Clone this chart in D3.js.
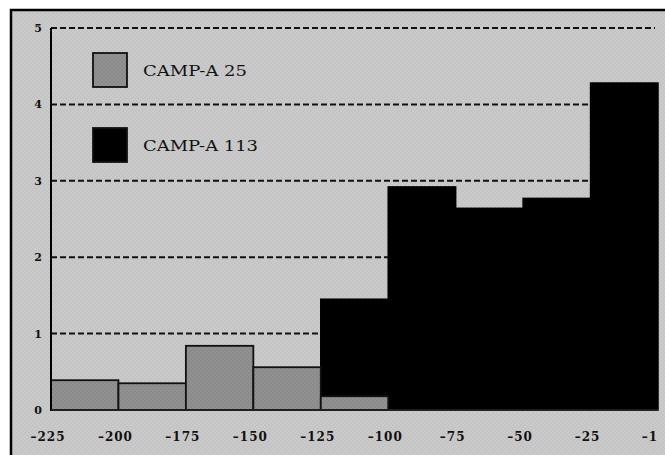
<!DOCTYPE html>
<html><head><meta charset="utf-8">
<script src="https://cdn.jsdelivr.net/npm/d3@7"></script>
<style>body{margin:0;background:#fff}svg{display:block}</style>
</head><body><svg id="c" width="665" height="455"></svg>
<script>
const binEdges = ["-225","-200","-175","-150","-125","-100","-75","-50","-25","-1"];
const camp25 = [0.39, 0.35, 0.84, 0.56, 0.18, 0, 0, 0, 0];
const camp113 = [0, 0, 0, 0, 1.45, 2.92, 2.64, 2.77, 4.28];
const yTicks = [0,1,2,3,4,5];
const seriesNames = ["CAMP-A 25","CAMP-A 113"];
const seriesColors = ["#8e8e8e","#000000"];

const svg = d3.select("#c");
const defs = svg.append("defs");
const pat = defs.append("pattern").attr("id","tex").attr("width",4).attr("height",4).attr("patternUnits","userSpaceOnUse");
pat.append("rect").attr("width",4).attr("height",4).attr("fill","#cacaca");
pat.append("rect").attr("width",2).attr("height",2).attr("fill","#c4c4c4");
pat.append("rect").attr("x",2).attr("y",2).attr("width",2).attr("height",2).attr("fill","#c4c4c4");
const pat2 = defs.append("pattern").attr("id","tex2").attr("width",4).attr("height",4).attr("patternUnits","userSpaceOnUse");
pat2.append("rect").attr("width",4).attr("height",4).attr("fill","#919191");
pat2.append("rect").attr("width",2).attr("height",2).attr("fill","#8a8a8a");
pat2.append("rect").attr("x",2).attr("y",2).attr("width",2).attr("height",2).attr("fill","#8a8a8a");

// frame
svg.append("rect").attr("x",0).attr("y",0).attr("width",665).attr("height",455).attr("fill","#fff");
svg.append("rect").attr("x",11).attr("y",10).attr("width",680).attr("height",480)
  .attr("fill","url(#tex)").attr("stroke","#000").attr("stroke-width",2.5);

const x = d3.scaleLinear().domain([0, binEdges.length-1]).range([51, 658]);
const y = d3.scaleLinear().domain([0,5]).range([410, 28]);

// gridlines
svg.append("g").selectAll("line").data(yTicks.filter(d=>d>0)).join("line")
  .attr("x1",51).attr("x2",655).attr("y1",d=>y(d)).attr("y2",d=>y(d))
  .attr("stroke","#111").attr("stroke-width",2).attr("stroke-dasharray","6,3");

const toBins = arr => arr.map((v,i)=>({v,i})).filter(d=>d.v>0);

// black bars
svg.append("g").selectAll("rect").data(toBins(camp113)).join("rect")
  .attr("x",d=>x(d.i)).attr("width",d=>x(d.i+1)-x(d.i))
  .attr("y",d=>y(d.v)).attr("height",d=>y(0)-y(d.v))
  .attr("fill",seriesColors[1]).attr("stroke","#000").attr("stroke-width",1.5);

// gray bars
svg.append("g").selectAll("rect").data(toBins(camp25)).join("rect")
  .attr("x",d=>x(d.i)).attr("width",d=>x(d.i+1)-x(d.i))
  .attr("y",d=>y(d.v)).attr("height",d=>y(0)-y(d.v))
  .attr("fill","url(#tex2)").attr("stroke","#111").attr("stroke-width",1.8);

// axis lines
svg.append("line").attr("x1",51).attr("x2",51).attr("y1",y(5)).attr("y2",y(0)+1).attr("stroke","#000").attr("stroke-width",2);
svg.append("line").attr("x1",51).attr("x2",658).attr("y1",y(0)).attr("y2",y(0)).attr("stroke","#222").attr("stroke-width",1.5);

const font = "'DejaVu Serif', serif";
// y labels
svg.append("g").selectAll("text").data(yTicks).join("text")
  .attr("x",38).attr("y",d=>y(d)+4).attr("text-anchor","middle")
  .attr("font-family",font).attr("font-size",11).attr("font-weight","bold").attr("fill","#111")
  .text(d=>d);

// x labels
svg.append("g").selectAll("text").data(binEdges).join("text")
  .attr("x",(d,i)=>i===binEdges.length-1 ? x(i)-8 : x(i)-3).attr("y",441).attr("text-anchor","middle")
  .attr("font-family",font).attr("font-size",12).attr("font-weight","bold").attr("fill","#111")
  .attr("letter-spacing","1")
  .text(d=>d.replace("-","\u2013"));

// legend
const lg = svg.append("g").selectAll("g").data(seriesNames).join("g")
  .attr("transform",(d,i)=>`translate(93,${53+i*75})`);
lg.append("rect").attr("width",34).attr("height",34)
  .attr("fill",(d,i)=>i===0?"url(#tex2)":"#000").attr("stroke","#111").attr("stroke-width",1.8);
lg.append("text").attr("x",50).attr("y",23)
  .attr("font-family",font).attr("font-size",14).attr("fill","#111")
  .attr("textLength",(d,i)=>i===0?104:115).attr("lengthAdjust","spacingAndGlyphs")
  .text(d=>d);
</script></body></html>
